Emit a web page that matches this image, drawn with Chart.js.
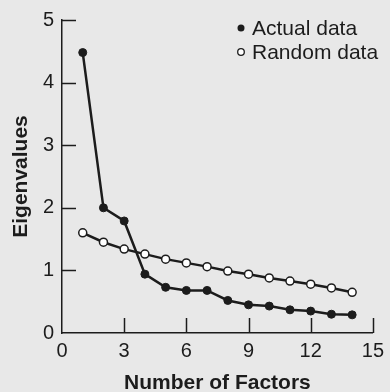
<!DOCTYPE html>
<html>
<head>
<meta charset="utf-8">
<script src="https://cdn.jsdelivr.net/npm/chart.js@4.4.1/dist/chart.umd.min.js"></script>
<style>
  body { margin: 0; background: #e8e8e8; }
  canvas { display: block; }
</style>
</head>
<body>
<canvas id="screeChart" width="390" height="392"></canvas>
<script>
const factors = [1, 2, 3, 4, 5, 6, 7, 8, 9, 10, 11, 12, 13, 14];
const actualData = [4.48, 2.0, 1.79, 0.94, 0.73, 0.68, 0.68, 0.52, 0.45, 0.43, 0.37, 0.35, 0.30, 0.29];
const randomData = [1.60, 1.45, 1.34, 1.26, 1.18, 1.12, 1.06, 0.99, 0.94, 0.88, 0.83, 0.78, 0.72, 0.65];
const xTicks = [0, 3, 6, 9, 12, 15];
const yTicks = [0, 1, 2, 3, 4, 5];
const seriesNames = ['Actual data', 'Random data'];

document.addEventListener('DOMContentLoaded', function() {
    const ink = '#1c1c1c';
    const fontFamily = '"Liberation Sans", Arial, sans-serif';

    // inward tick marks + legend inside the plot
    const extras = {
        id: 'extras',
        afterDraw: function(chart) {
            const c = chart.ctx;
            const xs = chart.scales.x;
            const ys = chart.scales.y;
            const area = chart.chartArea;
            c.save();
            c.strokeStyle = ink;
            c.lineWidth = 1.5;
            xs.ticks.forEach(function(t) {
                if (t.value === 0) return;
                const px = Math.round(xs.getPixelForValue(t.value)) + 0.5;
                c.beginPath();
                c.moveTo(px, area.bottom);
                c.lineTo(px, area.bottom - 15);
                c.stroke();
            });
            ys.ticks.forEach(function(t) {
                if (t.value === 0) return;
                const py = Math.round(ys.getPixelForValue(t.value)) + 0.5;
                c.beginPath();
                c.moveTo(area.left, py);
                c.lineTo(area.left + 14, py);
                c.stroke();
            });

            c.font = '21px ' + fontFamily;
            c.textBaseline = 'middle';
            c.textAlign = 'left';
            chart.data.datasets.forEach(function(ds, i) {
                const y = 28 + i * 24;
                c.beginPath();
                c.arc(241, y, i === 0 ? 3.5 : 3.3, 0, Math.PI * 2);
                if (i === 0) {
                    c.fillStyle = ink;
                    c.fill();
                } else {
                    c.fillStyle = '#ffffff';
                    c.fill();
                    c.lineWidth = 1.3;
                    c.stroke();
                }
                c.fillStyle = ink;
                c.fillText(ds.label, 252, y + 1);
            });
            c.restore();
        }
    };

    const config = {
        type: 'line',
        data: {
            datasets: [{
                label: seriesNames[0],
                data: factors.map(function(f, i) { return { x: f, y: actualData[i] }; }),
                borderColor: ink,
                borderWidth: 2.5,
                pointRadius: 4,
                pointBackgroundColor: ink,
                pointBorderColor: ink,
                pointBorderWidth: 1,
                tension: 0
            }, {
                label: seriesNames[1],
                data: factors.map(function(f, i) { return { x: f, y: randomData[i] }; }),
                borderColor: ink,
                borderWidth: 2.5,
                pointRadius: 4,
                pointBackgroundColor: '#ffffff',
                pointBorderColor: ink,
                pointBorderWidth: 1.5,
                tension: 0
            }]
        },
        options: {
            responsive: false,
            animation: false,
            layout: { padding: { top: 17, right: 12, left: 0, bottom: 0 } },
            scales: {
                x: {
                    type: 'linear',
                    min: 0,
                    max: 15,
                    afterBuildTicks: function(scale) {
                        scale.ticks = xTicks.map(function(v) { return { value: v }; });
                    },
                    afterFit: function(scale) { scale.height = 59; },
                    ticks: {
                        color: ink,
                        padding: 6,
                        maxRotation: 0,
                        autoSkip: false,
                        font: { family: fontFamily, size: 20 }
                    },
                    grid: { drawOnChartArea: false, drawTicks: false, tickLength: 0 },
                    border: { display: true, color: ink, width: 1.5 },
                    title: {
                        display: true,
                        text: 'Number of Factors',
                        color: ink,
                        padding: 0,
                        font: { family: fontFamily, size: 21, weight: 'bold', lineHeight: 0.8 }
                    }
                },
                y: {
                    min: 0,
                    max: 5,
                    afterBuildTicks: function(scale) {
                        scale.ticks = yTicks.map(function(v) { return { value: v }; });
                    },
                    afterFit: function(scale) { scale.width = 62; },
                    ticks: {
                        color: ink,
                        padding: 8,
                        autoSkip: false,
                        font: { family: fontFamily, size: 20 }
                    },
                    grid: { drawOnChartArea: false, drawTicks: false, tickLength: 0 },
                    border: { display: true, color: ink, width: 1.5 },
                    title: {
                        display: true,
                        text: 'Eigenvalues',
                        color: ink,
                        padding: { top: 11, bottom: 0 },
                        font: { family: fontFamily, size: 21, weight: 'bold', lineHeight: 1 }
                    }
                }
            },
            plugins: {
                legend: { display: false },
                tooltip: { enabled: false }
            }
        },
        plugins: [extras]
    };

    const ctx = document.getElementById('screeChart').getContext('2d');
    new Chart(ctx, config);
});
</script>
</body>
</html>
